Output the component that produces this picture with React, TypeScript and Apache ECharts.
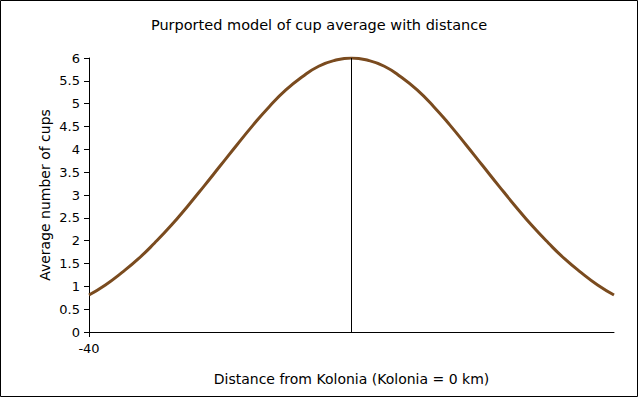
import React, { useEffect, useRef } from "react";
import * as echarts from "echarts";

const distances = [-40, -37.5, -35, -32.5, -30, -27.5, -25, -22.5, -20, -17.5, -15, -12.5, -10, -7.5, -5, -2.5, 0, 2.5, 5, 7.5, 10, 12.5, 15, 17.5, 20, 22.5, 25, 27.5, 30, 32.5, 35, 37.5, 40];
const cups = [0.81, 1.03, 1.3, 1.6, 1.95, 2.33, 2.75, 3.19, 3.64, 4.09, 4.53, 4.94, 5.3, 5.59, 5.82, 5.95, 6.0, 5.95, 5.82, 5.59, 5.3, 4.94, 4.53, 4.09, 3.64, 3.19, 2.75, 2.33, 1.95, 1.6, 1.3, 1.03, 0.81];
const xTickLabels = [-40];
const titleText = "Purported model of cup average with distance";
const xName = "Distance from Kolonia (Kolonia = 0 km)";
const yName = "Average number of cups";
const peakDistance = 0;

export default function App() {
  const ref = useRef<HTMLDivElement>(null);
  useEffect(() => {
    document.body.style.margin = "0";
    const chart = echarts.init(ref.current!, null, { renderer: "svg" });
    const font = "DejaVu Sans, Verdana, sans-serif";
    chart.setOption({
      animation: false,
      backgroundColor: "#fff",
      title: {
        text: titleText,
        left: "center",
        top: 12,
        textStyle: { fontFamily: font, fontSize: 14.5, fontWeight: "normal", color: "#000" },
      },
      graphic: [
        {
          type: "rect",
          shape: { x: 0.5, y: 0.5, width: 637, height: 396 },
          style: { fill: "none", stroke: "#000", lineWidth: 1 },
          silent: true,
        },
      ],
      grid: { left: 89, right: 24, top: 58, bottom: 65 },
      xAxis: {
        type: "value",
        min: -40,
        max: 40,
        name: xName,
        nameLocation: "middle",
        nameGap: 40,
        nameMoveOverlap: false,
        nameTextStyle: { fontFamily: font, fontSize: 14, color: "#000" },
        axisLine: { onZero: false, lineStyle: { color: "#000", width: 1 } },
        axisTick: { show: true, length: 5, customValues: xTickLabels, lineStyle: { color: "#000" } },
        axisLabel: { customValues: xTickLabels, fontFamily: font, fontSize: 13, color: "#000", margin: 10 },
        splitLine: { show: false },
      },
      yAxis: {
        type: "value",
        min: 0,
        max: 6,
        interval: 0.5,
        name: yName,
        nameLocation: "middle",
        nameGap: 37,
        nameMoveOverlap: false,
        nameTextStyle: { fontFamily: font, fontSize: 14, color: "#000" },
        axisLine: { show: true, onZero: false, lineStyle: { color: "#000", width: 1 } },
        axisTick: { show: true, length: 5, lineStyle: { color: "#000" } },
        axisLabel: { fontFamily: font, fontSize: 13, color: "#000", margin: 9 },
        splitLine: { show: false },
      },
      series: [
        {
          type: "line",
          data: distances.map((d, i) => [d, cups[i]]),
          smooth: true,
          showSymbol: false,
          lineStyle: { color: "#7a4b1f", width: 3 },
          markLine: {
            silent: true,
            symbol: "none",
            label: { show: false },
            lineStyle: { color: "#000", width: 1, type: "solid" },
            data: [{ xAxis: peakDistance }],
          },
        },
      ],
    });
    return () => chart.dispose();
  }, []);
  return <div ref={ref} style={{ width: 638, height: 397 }} />;
}
